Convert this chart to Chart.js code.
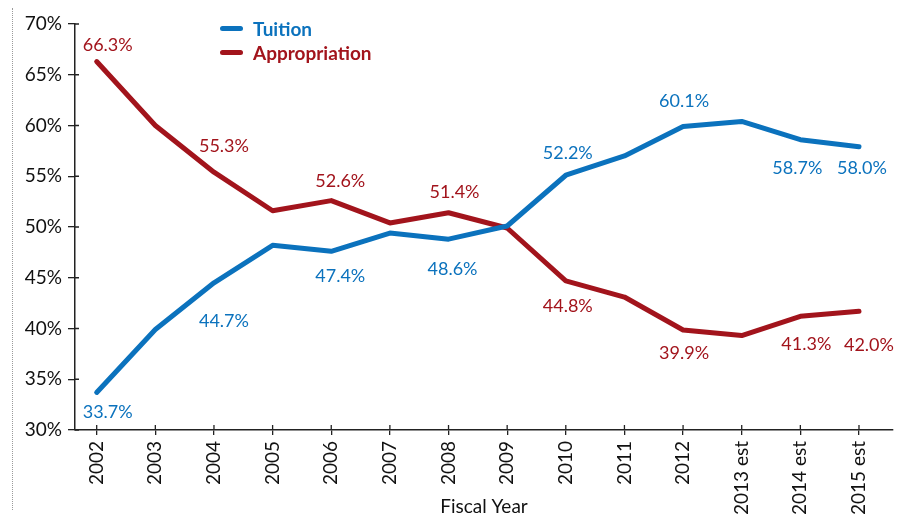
<!DOCTYPE html>
<html>
<head>
<meta charset="utf-8">
<script src="https://cdn.jsdelivr.net/npm/chart.js@4/dist/chart.umd.min.js"></script>
<style>
  html, body { margin: 0; padding: 0; background: #fff; }
  #wrap { position: relative; width: 909px; height: 518px; }
  #edge { position: absolute; left: 12px; top: 8px; height: 502px; border-left: 1px dotted #9a9a9a; }
  #legend { position: absolute; left: 220px; top: 16px; font: bold 19px Lato, sans-serif; }
  #legend .row { display: flex; align-items: center; height: 24px; }
  #legend .swatch { width: 23px; height: 5px; border-radius: 3px; margin-right: 10px; }
</style>
</head>
<body>
<div id="wrap">
  <div id="edge"></div>
  <canvas id="chart" width="909" height="518"></canvas>
  <div id="legend"></div>
</div>
<script>
// data
const years = ['2002', '2003', '2004', '2005', '2006', '2007', '2008', '2009', '2010', '2011', '2012', '2013 est', '2014 est', '2015 est'];
const tuition = [33.7, 39.9, 44.5, 48.2, 47.6, 49.4, 48.8, 50.1, 55.1, 57.0, 59.9, 60.4, 58.6, 57.9];
const appropriation = [66.3, 60.0, 55.4, 51.6, 52.6, 50.4, 51.4, 49.9, 44.7, 43.1, 39.85, 39.3, 41.2, 41.7];
const tuitionLabels = ['33.7%', null, '44.7%', null, '47.4%', null, '48.6%', null, '52.2%', null, '60.1%', null, '58.7%', '58.0%'];
const appropriationLabels = ['66.3%', null, '55.3%', null, '52.6%', null, '51.4%', null, '44.8%', null, '39.9%', null, '41.3%', '42.0%'];
const yTicks = [30, 35, 40, 45, 50, 55, 60, 65, 70];

// label nudges (px) from the point
const tuitionNudge = [[11, 20], null, [10, 38], null, [9, 25], null, [4, 30], null, [2, -22], null, [1, -25], null, [-3, 28], [3, 21]];
const appropriationNudge = [[11, -16], null, [10, -26], null, [9, -19], null, [6, -21], null, [2, 25], null, [1, 23], null, [6, 28], [10, 34]];

const BLUE = '#0B72BD';
const RED = '#A2141C';
const AXIS = '#222';
const FONT = 'Lato, sans-serif';

const series = [
    { label: 'Tuition', values: tuition, labels: tuitionLabels, nudge: tuitionNudge, color: BLUE },
    { label: 'Appropriation', values: appropriation, labels: appropriationLabels, nudge: appropriationNudge, color: RED }
];

// legend
const legend = document.getElementById('legend');
series.forEach(s => {
    const row = document.createElement('div');
    row.className = 'row';
    row.innerHTML = `<span class="swatch" style="background:${s.color}"></span><span style="color:${s.color}">${s.label}</span>`;
    legend.appendChild(row);
});

// value labels next to points
const pointLabels = {
    id: 'pointLabels',
    afterDatasetsDraw(chart) {
        const ctx = chart.ctx;
        ctx.save();
        ctx.font = `18px ${FONT}`;
        ctx.textAlign = 'center';
        ctx.textBaseline = 'middle';
        series.forEach((s, d) => {
            const meta = chart.getDatasetMeta(d);
            s.labels.forEach((txt, i) => {
                if (!txt) return;
                const p = meta.data[i];
                const [dx, dy] = s.nudge[i];
                ctx.fillStyle = s.color;
                ctx.fillText(txt, p.x + dx, p.y + dy);
            });
        });
        ctx.restore();
    }
};

// tick marks that cross the axis line
const crossTicks = {
    id: 'crossTicks',
    afterDraw(chart) {
        const ctx = chart.ctx;
        const { x, y } = chart.scales;
        const area = chart.chartArea;
        ctx.save();
        ctx.strokeStyle = AXIS;
        ctx.lineWidth = 1.3;
        ctx.beginPath();
        x.ticks.forEach(t => {
            const px = x.getPixelForValue(t.value);
            ctx.moveTo(px, area.bottom - 5);
            ctx.lineTo(px, area.bottom);
        });
        y.ticks.forEach(t => {
            const py = y.getPixelForValue(t.value);
            ctx.moveTo(area.left, py);
            ctx.lineTo(area.left + 4, py);
        });
        ctx.stroke();
        ctx.restore();
    }
};

new Chart(document.getElementById('chart'), {
    type: 'line',
    data: {
        datasets: series.map(s => ({
            label: s.label,
            data: s.values.map((v, i) => ({ x: i, y: v })),
            borderColor: s.color,
            backgroundColor: s.color,
            borderWidth: 5,
            borderCapStyle: 'round',
            borderJoinStyle: 'round',
            pointRadius: 0,
            tension: 0,
            fill: false
        }))
    },
    options: {
        responsive: false,
        animation: false,
        devicePixelRatio: 1,
        layout: { padding: { left: 0, right: 16, top: 24, bottom: 0 } },
        plugins: {
            legend: { display: false },
            tooltip: { enabled: false }
        },
        scales: {
            x: {
                type: 'linear',
                min: -0.37,
                max: 13.58,
                afterBuildTicks: s => { s.ticks = years.map((_, i) => ({ value: i })); },
                afterFit: s => { s.height = 88; },
                ticks: {
                    callback: v => years[v],
                    autoSkip: false,
                    minRotation: 90,
                    maxRotation: 90,
                    padding: 6,
                    color: '#111',
                    font: { family: FONT, size: 19 }
                },
                grid: { drawOnChartArea: false, tickLength: 5, color: AXIS, lineWidth: 1.3 },
                border: { color: AXIS, width: 1.5 },
                title: {
                    display: true,
                    text: 'Fiscal Year',
                    color: '#111',
                    font: { family: FONT, size: 19 },
                    padding: { top: 0, bottom: 0 }
                }
            },
            y: {
                min: 30,
                max: 70,
                afterBuildTicks: s => { s.ticks = yTicks.map(v => ({ value: v })); },
                afterFit: s => { s.width = 75; },
                ticks: {
                    callback: v => v + '%',
                    padding: 6,
                    color: '#111',
                    font: { family: FONT, size: 19 }
                },
                grid: { drawOnChartArea: false, tickLength: 7, color: AXIS, lineWidth: 1.3 },
                border: { color: AXIS, width: 1.5 }
            }
        }
    },
    plugins: [pointLabels, crossTicks]
});
</script>
</body>
</html>
